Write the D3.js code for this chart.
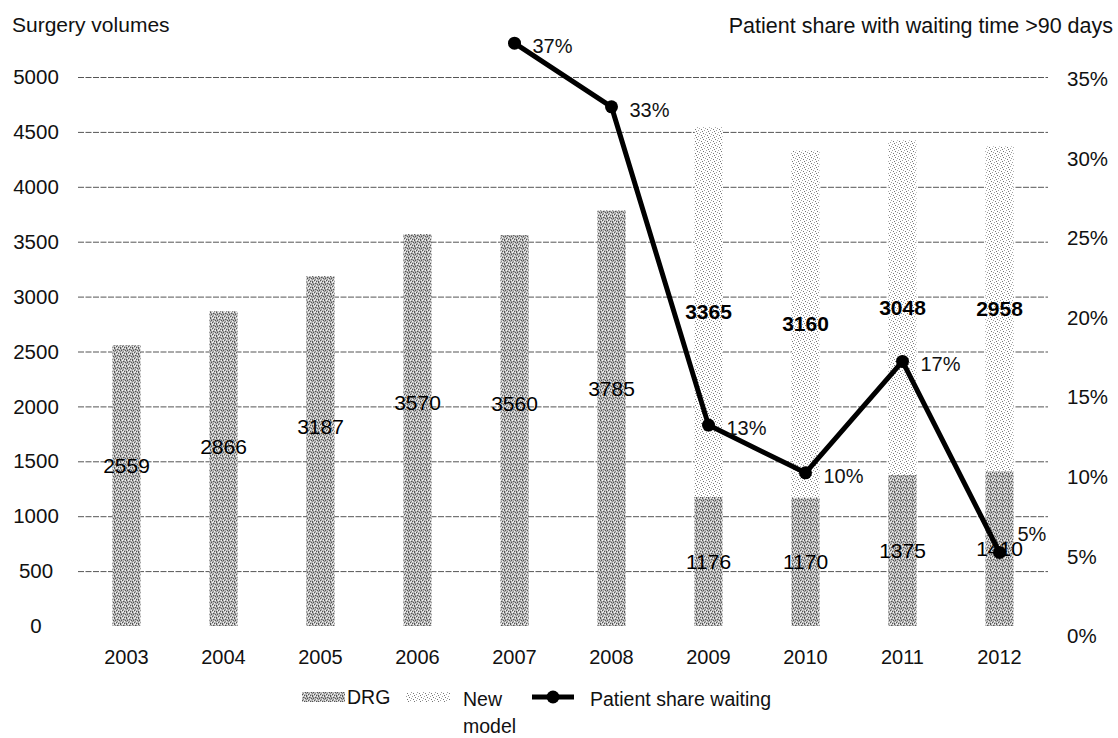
<!DOCTYPE html>
<html>
<head>
<meta charset="utf-8">
<script src="https://cdn.jsdelivr.net/npm/d3@7"></script>
<style>
  html, body { margin: 0; padding: 0; background: #fff; }
  svg { display: block; font-family: "Liberation Sans", Arial, sans-serif; }
</style>
</head>
<body>
<svg id="chart" width="1118" height="738"></svg>
<script>
// Surgery volumes by payment model, with share of patients waiting > 90 days
const years = ["2003", "2004", "2005", "2006", "2007", "2008", "2009", "2010", "2011", "2012"];
const drgVolumes = [2559, 2866, 3187, 3570, 3560, 3785, 1176, 1170, 1375, 1410];
const newModelVolumes = [null, null, null, null, null, null, 3365, 3160, 3048, 2958];
const waitingShare = [null, null, null, null, 0.37, 0.33, 0.13, 0.10, 0.17, 0.05];
const volumeTicks = [0, 500, 1000, 1500, 2000, 2500, 3000, 3500, 4000, 4500, 5000];
const shareTicks = [0, 0.05, 0.10, 0.15, 0.20, 0.25, 0.30, 0.35];

const svg = d3.select("#chart");
const plotLeft = 78, plotRight = 1048;

const x = d3.scaleBand().domain(years).range([plotLeft, plotRight])
  .paddingInner(0.71).paddingOuter(0.355);
const yL = d3.scaleLinear().domain([0, 5000]).range([626, 77]);
const yR = d3.scaleLinear().domain([0, 0.35]).range([632, 75]);
const pct = d3.format(".0%");

// ---- fill textures ----
const defs = svg.append("defs");

// DRG: grey dither
const drgPat = defs.append("pattern").attr("id", "drgFill")
  .attr("patternUnits", "userSpaceOnUse").attr("width", 6).attr("height", 6);
drgPat.append("rect").attr("width", 6).attr("height", 6).attr("fill", "#bcbcbc");
[[0,0],[3,1],[1,2],[5,2],[2,4],[4,5],[0,5]].forEach(([px, py]) =>
  drgPat.append("rect").attr("x", px).attr("y", py).attr("width", 1).attr("height", 1).attr("fill", "#555"));
[[2,0],[5,0],[4,3],[1,4],[3,5]].forEach(([px, py]) =>
  drgPat.append("rect").attr("x", px).attr("y", py).attr("width", 1).attr("height", 1).attr("fill", "#f4f4f4"));
[[1,1],[4,1],[0,3],[3,3]].forEach(([px, py]) =>
  drgPat.append("rect").attr("x", px).attr("y", py).attr("width", 1).attr("height", 1).attr("fill", "#8a8a8a"));

// New model: sparse light dots
const newPat = defs.append("pattern").attr("id", "newFill")
  .attr("patternUnits", "userSpaceOnUse").attr("width", 6).attr("height", 6);
newPat.append("rect").attr("width", 6).attr("height", 6).attr("fill", "#ffffff");
[[1,1],[4,0],[5,3],[2,4],[0,5],[3,2]].forEach(([px, py], i) =>
  newPat.append("rect").attr("x", px).attr("y", py).attr("width", 1).attr("height", 1)
    .attr("fill", i % 2 ? "#a0a0a0" : "#777"));

// ---- gridlines ----
svg.append("g").selectAll("line")
  .data(volumeTicks.filter(d => d > 0))
  .join("line")
  .attr("x1", plotLeft).attr("x2", plotRight)
  .attr("y1", d => yL(d) + 0.5).attr("y2", d => yL(d) + 0.5)
  .attr("stroke", "#555").attr("stroke-width", 1)
  .attr("stroke-dasharray", "6,1.5");

// ---- left axis labels ----
svg.append("g").selectAll("text")
  .data(volumeTicks)
  .join("text")
  .attr("x", 36).attr("y", d => yL(d))
  .attr("dy", "0.35em").attr("text-anchor", "middle")
  .attr("font-size", 20.5).attr("fill", "#111")
  .text(d => d);

// ---- right axis labels ----
svg.append("g").selectAll("text")
  .data(shareTicks)
  .join("text")
  .attr("x", 1067).attr("y", d => yR(d) + 4)
  .attr("dy", "0.35em").attr("text-anchor", "start")
  .attr("font-size", 20.5).attr("fill", "#111")
  .text(d => pct(d));

// ---- x axis labels ----
svg.append("g").selectAll("text")
  .data(years)
  .join("text")
  .attr("x", d => x(d) + x.bandwidth() / 2).attr("y", 657)
  .attr("dy", "0.35em").attr("text-anchor", "middle")
  .attr("font-size", 20).attr("fill", "#111")
  .text(d => d);

// ---- axis titles ----
svg.append("text").attr("x", 12).attr("y", 25).attr("dy", "0.35em")
  .attr("font-size", 21).attr("fill", "#111").text("Surgery volumes");
svg.append("text").attr("x", 1113).attr("y", 25).attr("dy", "0.35em")
  .attr("text-anchor", "end")
  .attr("font-size", 21.5).attr("fill", "#111").text("Patient share with waiting time >90 days");

// ---- stacked bars ----
const rows = years.map((yr, i) => ({ yr, drg: drgVolumes[i], nm: newModelVolumes[i], share: waitingShare[i] }));

const bars = svg.append("g");
bars.selectAll("rect.drg")
  .data(rows)
  .join("rect").attr("class", "drg")
  .attr("x", d => x(d.yr)).attr("width", x.bandwidth())
  .attr("y", d => yL(d.drg)).attr("height", d => yL(0) - yL(d.drg))
  .attr("fill", "url(#drgFill)");

bars.selectAll("rect.nm")
  .data(rows.filter(d => d.nm != null))
  .join("rect").attr("class", "nm")
  .attr("x", d => x(d.yr)).attr("width", x.bandwidth())
  .attr("y", d => yL(d.drg + d.nm)).attr("height", d => yL(d.drg) - yL(d.drg + d.nm))
  .attr("fill", "url(#newFill)");

// ---- bar value labels ----
const labels = svg.append("g").attr("font-size", 21).attr("fill", "#000").attr("text-anchor", "middle");
labels.selectAll("text.drgLab")
  .data(rows)
  .join("text").attr("class", "drgLab")
  .attr("x", d => x(d.yr) + x.bandwidth() / 2)
  .attr("y", d => d.nm == null ? yL(d.drg * 0.57) : yL(d.drg / 2))
  .attr("dy", "0.35em")
  .text(d => d.drg);

labels.selectAll("text.nmLab")
  .data(rows.filter(d => d.nm != null))
  .join("text").attr("class", "nmLab")
  .attr("x", d => x(d.yr) + x.bandwidth() / 2)
  .attr("y", d => yL(d.drg + d.nm / 2))
  .attr("dy", "0.35em").attr("font-weight", "bold")
  .text(d => d.nm);

// ---- waiting share line ----
const linePts = rows.filter(d => d.share != null);
const cx = d => x(d.yr) + x.bandwidth() / 2;
const line = d3.line().x(cx).y(d => yR(d.share));

svg.append("path").datum(linePts)
  .attr("d", line).attr("fill", "none")
  .attr("stroke", "#000").attr("stroke-width", 5).attr("stroke-linejoin", "round");

svg.append("g").selectAll("circle")
  .data(linePts)
  .join("circle")
  .attr("cx", cx).attr("cy", d => yR(d.share)).attr("r", 6.5)
  .attr("fill", "#000");

svg.append("g").selectAll("text")
  .data(linePts)
  .join("text")
  .attr("x", d => cx(d) + 18)
  .attr("y", (d, i) => yR(d.share) + (i === linePts.length - 1 ? -18 : 3))
  .attr("dy", "0.35em").attr("font-size", 20).attr("fill", "#111")
  .text(d => pct(d.share));

// ---- legend ----
const legend = svg.append("g").attr("font-size", 19.5).attr("fill", "#111");
legend.append("rect").attr("x", 302).attr("y", 692).attr("width", 43).attr("height", 10)
  .attr("fill", "url(#drgFill)");
legend.append("text").attr("x", 347).attr("y", 697).attr("dy", "0.35em").text("DRG");
legend.append("rect").attr("x", 406).attr("y", 692).attr("width", 44).attr("height", 10)
  .attr("fill", "url(#newFill)");
legend.append("text").attr("x", 463).attr("y", 699).attr("dy", "0.35em").text("New");
legend.append("text").attr("x", 463).attr("y", 726).attr("dy", "0.35em").text("model");
legend.append("line").attr("x1", 532).attr("x2", 574).attr("y1", 697).attr("y2", 697)
  .attr("stroke", "#000").attr("stroke-width", 5);
legend.append("circle").attr("cx", 553).attr("cy", 697).attr("r", 6.5).attr("fill", "#000");
legend.append("text").attr("x", 590).attr("y", 699).attr("dy", "0.35em").text("Patient share waiting");
</script>
</body>
</html>
